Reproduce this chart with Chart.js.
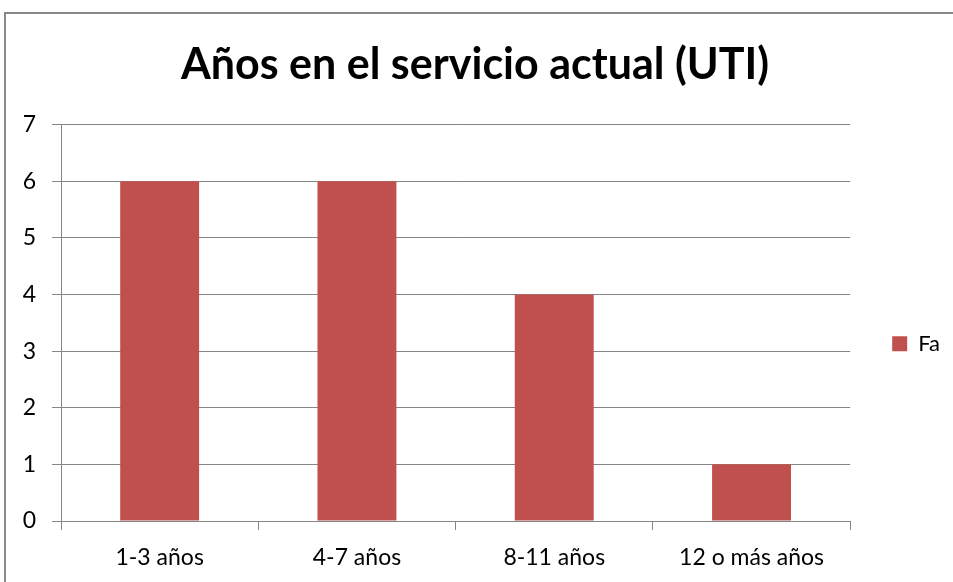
<!DOCTYPE html>
<html>
<head>
<meta charset="utf-8">
<script src="https://cdn.jsdelivr.net/npm/chart.js@4/dist/chart.umd.min.js"></script>
<style>
  html, body { margin: 0; padding: 0; background: #fff; }
  #wrap { position: relative; width: 953px; height: 582px; overflow: hidden; }
  #frame { position: absolute; left: 4px; top: 12px; width: 960px; height: 600px;
           border-left: 2px solid #888; border-top: 2px solid #888; }
  canvas { position: absolute; left: 0; top: 0; }
</style>
</head>
<body>
<div id="wrap">
  <div id="frame"></div>
  <canvas id="graph-canvas" width="953" height="582"></canvas>
</div>
<script>
// categories and values
const labels = ['1-3 años', '4-7 años', '8-11 años', '12 o más años'];
const faValues = [6, 6, 4, 1];
const yTicks = [0, 1, 2, 3, 4, 5, 6, 7];

const gridColor = '#868686';
const font = 'Lato, "Open Sans", sans-serif';

const data = {
  labels: labels,
  datasets: [{
    label: 'Fa',
    backgroundColor: '#C0504D',
    borderWidth: 0,
    data: faValues,
    barPercentage: 0.4,
    categoryPercentage: 1
  }]
};

const config = {
  type: 'bar',
  data: data,
  options: {
    responsive: false,
    animation: false,
    layout: { padding: { left: 0, right: 3, top: 0, bottom: 0 } },
    plugins: {
      tooltip: { enabled: false },
      title: {
        display: true,
        text: 'Años en el servicio actual (UTI)',
        color: '#000',
        font: { family: font, size: 43, weight: 'bold' },
        padding: { top: 39, bottom: 34 }
      },
      legend: {
        position: 'right',
        // blank legend title only pushes the entry down a bit
        title: { display: true, text: ' ', font: { size: 33 }, padding: { top: 0, bottom: 66 } },
        labels: {
          color: '#000',
          font: { family: font, size: 22 },
          boxWidth: 15,
          boxHeight: 15,
          padding: 42
        }
      }
    },
    scales: {
      x: {
        afterFit: (s) => { s.height = 61; },
        grid: { drawOnChartArea: false, drawTicks: true, tickLength: 9, color: gridColor, offset: true },
        border: { color: gridColor, width: 1 },
        ticks: { color: '#000', font: { family: font, size: 23 }, padding: 14 }
      },
      y: {
        min: 0,
        max: 7,
        afterFit: (s) => { s.width = 61; },
        afterBuildTicks: (s) => { s.ticks = yTicks.map(v => ({ value: v })); },
        grid: { color: gridColor, tickLength: 9 },
        border: { color: gridColor, width: 1 },
        ticks: { color: '#000', font: { family: font, size: 23 }, padding: 16 }
      }
    }
  }
};

const graphObj = new Chart(document.getElementById('graph-canvas'), config);
</script>
</body>
</html>
